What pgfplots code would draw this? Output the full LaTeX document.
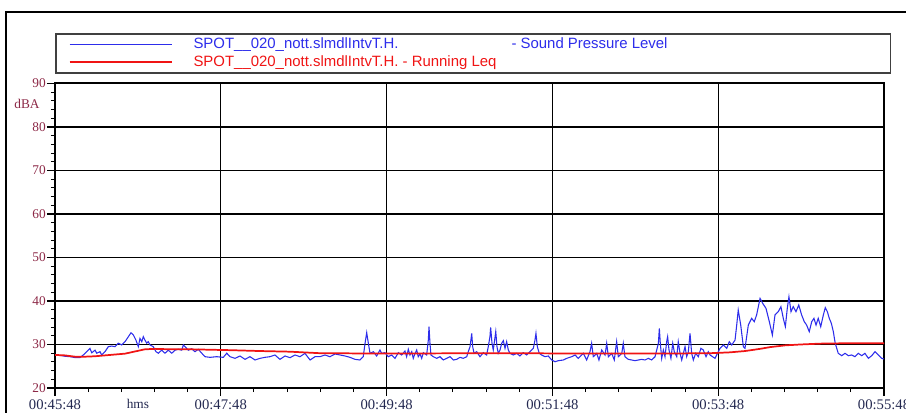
\documentclass[border=0pt]{standalone}
\usepackage{pgfplots}
\pgfplotsset{compat=1.18}
\usepackage{fontspec}
\setmainfont{Liberation Serif}
\newfontfamily\legendfont{Liberation Sans}
\definecolor{splblue}{RGB}{45,45,235}
\definecolor{leqred}{RGB}{240,20,20}
\definecolor{ylab}{RGB}{140,40,70}
\definecolor{xlab}{RGB}{35,40,80}
\begin{document}
\begin{tikzpicture}
\useasboundingbox (0pt,0pt) rectangle (679.5pt,-309pt);
\draw[line width=2pt,black] (4.5pt,-340pt) -- (4.5pt,-9pt) -- (700pt,-9pt);
\begin{axis}[
  at={(41.25pt,-291pt)}, anchor=south west,
  scale only axis, width=621.75pt, height=228.4pt,
  xmin=0, xmax=600, ymin=20, ymax=90,
  xtick={0,120,240,360,480,600},
  xticklabels={00:45:48,00:47:48,00:49:48,00:51:48,00:53:48,00:55:48},
  ytick={20,30,40,50,60,70,80,90},
  minor x tick num=4, minor y tick num=4,
  xtick pos=left, ytick pos=left,
  tick align=outside,
  major tick length=6pt, minor tick length=3pt,
  every tick/.style={black, line width=0.8pt},
  axis line style={black, line width=1.5pt},
  grid=major,
  major grid style={black, line width=0.8pt},
  /pgf/number format/assume math mode=true,
  xticklabel style={font=\fontsize{11}{12}\selectfont, text=xlab, inner sep=0pt, yshift=-2.5pt},
  yticklabel style={font=\fontsize{10}{12}\selectfont, text=ylab, inner sep=0pt, xshift=-0.75pt},
  xlabel={hms}, ylabel={dBA},
  every axis x label/.style={at={(axis description cs:0.1,0)}, anchor=base, yshift=-15.4pt, font=\fontsize{10}{12}\selectfont, text=xlab},
  every axis y label/.style={at={(axis description cs:0,0.9327)}, anchor=east, xshift=-8pt, font=\fontsize{10}{12}\selectfont, text=ylab},
  legend cell align=left,
  legend image code/.code={\draw[#1] (0pt,0pt) -- (76.5pt,0pt);},
  legend style={at={(0,1.1658)}, anchor=north west, draw=black!75, line width=1.2pt, fill=white,
    inner xsep=9.75pt, inner ysep=3pt, row sep=4pt,
    font=\legendfont\fontsize{11.2}{13}\selectfont,
    nodes={inner sep=0pt}, /tikz/column sep=15.75pt},
]
\addplot[splblue, line width=0.8pt] coordinates {
(0.0,27.6)(3.6,27.5)(7.2,27.3)(10.9,27.2)(14.5,27.0)(18.1,27.0)(20.5,27.6)(22.9,28.35)(25.3,29.1)(26.6,28.1)(29.0,28.7)(30.2,28.0)(32.6,28.35)(33.8,27.6)(36.2,28.35)(38.6,29.5)(41.0,29.65)(43.4,29.5)(45.8,30.3)(48.3,29.9)(50.7,30.65)(53.1,31.8)(55.0,32.7)(56.7,32.2)(58.6,31.0)(60.3,29.5)(61.5,31.4)(62.8,30.65)(63.9,31.8)(65.1,31.0)(66.4,30.3)(67.5,30.65)(68.8,29.9)(71.1,29.5)(73.1,28.35)(74.8,28.0)(77.2,28.7)(79.6,28.0)(82.0,28.7)(84.5,28.0)(86.9,28.7)(89.2,28.9)(91.7,28.7)(92.9,29.9)(94.1,29.5)(96.5,28.7)(98.9,29.0)(101.3,28.35)(103.7,28.9)(106.2,28.0)(108.6,27.2)(112.2,27.05)(117.0,27.2)(121.8,27.05)(124.3,28.0)(126.7,27.2)
(130.3,26.82)(133.9,27.36)(137.5,26.59)(141.1,27.20)(144.8,26.44)(148.4,26.82)(152.0,27.05)(155.6,27.20)(159.2,27.59)(162.8,26.59)(166.5,27.36)(170.1,26.97)(173.7,27.59)(177.3,27.20)(180.9,27.97)(184.6,26.44)(188.2,27.20)(191.8,27.20)(195.4,27.59)(199.0,27.20)(202.7,27.82)(206.3,27.59)(209.9,27.36)(213.5,27.05)(217.1,26.59)(220.7,26.44)(223.1,27.20)(224.4,30.27)(225.6,32.72)(226.8,30.27)(228.0,27.97)(230.4,28.35)(232.8,27.36)(235.2,28.74)(236.4,27.97)(238.8,28.12)(241.2,27.20)(243.7,27.59)(246.1,26.82)(248.5,28.12)(250.9,27.59)(253.3,28.5)
(254.5,27.20)(255.7,28.89)(256.9,27.59)(258.2,28.35)(259.3,26.82)(260.6,27.97)(261.8,28.74)(262.9,27.20)(264.2,27.82)(265.4,26.82)(266.6,28.12)(269.0,27.59)(270.2,31.03)(270.7,34.10)(271.4,30.27)(272.1,27.59)(273.8,27.20)(276.3,26.82)(278.6,27.20)(281.0,26.44)(283.5,26.82)(285.9,27.20)(288.3,26.44)(290.7,26.59)(293.1,27.05)(295.5,26.82)(298.0,27.20)(299.1,28.35)(300.4,29.50)(301.6,32.57)(302.3,29.50)(303.3,27.97)(305.2,28.35)(307.6,27.20)(310.0,28.12)(312.4,27.59)(313.6,29.50)(314.8,31.80)(315.3,33.95)(316.3,30.27)(317.2,28.74)(318.2,31.03)(319.0,32.95)(319.9,29.50)(320.8,27.97)(322.1,28.74)(323.3,30.27)(324.5,30.88)(325.7,29.12)(326.9,30.65)(328.1,28.74)(329.3,27.97)(331.7,27.59)(334.2,27.97)(336.5,27.36)(338.9,28.12)(341.4,27.59)(343.8,28.35)(346.2,29.12)(347.4,31.03)(348.1,32.57)(349.1,29.50)(350.5,27.97)(352.2,27.59)(354.6,27.20)(357.0,27.36)(359.5,26.44)(361.9,26.05)(364.3,26.28)(367.9,26.44)(370.4,26.82)(374.0,27.20)(376.4,27.59)(378.7,26.82)
(380.0,27.20)(382.4,27.97)(384.8,26.44)(387.2,28.35)(388.4,30.27)(389.6,27.20)(392.1,27.97)(393.7,26.44)(395.7,28.74)(398.1,27.59)(399.3,30.27)(400.5,27.20)(402.9,27.97)(404.8,26.44)(406.5,30.65)(407.7,27.20)(410.2,27.97)(411.3,30.27)(412.5,27.20)(414.9,26.59)(417.4,26.44)(419.8,26.28)(422.2,26.44)(424.6,26.59)(427.0,26.44)(429.4,26.82)(431.9,26.44)(434.3,27.20)(435.5,28.74)(436.7,30.27)(437.4,33.72)(438.1,30.27)(439.1,26.82)(440.3,28.74)(441.5,27.20)(442.7,30.65)(443.4,31.80)(444.4,28.74)(445.8,26.82)(447.1,30.27)(448.2,28.35)(450.0,27.20)(451.1,30.65)(452.4,27.97)(453.6,26.44)(456.0,29.50)(457.2,27.20)(458.4,28.35)(459.6,32.57)(460.8,27.97)(462.0,26.44)(463.7,27.97)(465.6,27.20)(467.5,29.12)(469.2,28.74)(471.2,27.20)(472.8,28.35)
(474.1,27.59)(477.7,26.82)(480.1,28.35)(481.3,29.12)(483.7,29.89)(486.2,29.12)(488.0,30.65)(489.8,29.89)(492.2,31.03)(493.4,34.48)(494.5,37.93)(496.3,34.48)(498.2,29.50)(499.4,29.12)(501.8,34.48)(504.2,36.02)(506.1,35.25)(507.8,36.78)(510.3,40.61)(512.2,39.46)(514.6,38.31)(517.0,35.25)(519.2,32.18)(521.1,36.78)(523.5,37.55)(525.4,38.70)(527.1,36.02)(528.6,34.10)(530.0,38.31)(531.2,40.99)(532.7,37.55)(534.3,38.70)(536.3,37.55)(538.3,39.08)(540.4,36.78)(542.3,35.25)(544.0,34.48)(545.9,32.95)(547.7,35.25)(549.3,36.02)(550.8,34.48)(552.4,36.02)(554.2,34.10)(556.1,36.78)(557.5,38.47)(559.0,37.55)(560.4,36.02)(561.9,34.86)(563.3,33.00)(564.7,30.27)(566.9,27.97)(569.4,27.43)(571.8,27.97)(574.2,27.43)(576.6,27.59)(579.0,27.20)(581.4,27.97)(583.9,27.43)(586.2,27.97)(588.7,26.82)(591.1,27.43)(593.5,28.35)(595.9,27.59)(598.4,26.82)(600.0,26.67)
};
\addlegendentry{\makebox[513pt][l]{\textcolor{splblue}{\makebox[238.5pt][l]{SPOT\_\_020\_nott.slmdlIntvT.H.}- Sound Pressure Level}}}
\addplot[leqred, line width=1.3pt] coordinates {
(0,27.6)(7.2,27.5)(14.5,27.2)(21.7,27.2)(29.0,27.3)(36.2,27.5)(43.4,27.7)(50.7,27.9)(57.9,28.4)(65.1,28.9)(72.4,29.0)(83.2,28.9)(97.7,28.9)(112.2,28.8)(126.7,28.7)(148.4,28.5)(170.1,28.35)(191.8,28.0)(220.7,27.95)(264.2,27.95)(322.1,28.0)(365.5,27.95)(408.9,27.95)(452.4,27.95)(474.1,28.0)(488.6,28.2)(499.4,28.5)(510.3,29.0)(517.5,29.4)(528.3,29.8)(539.2,30.0)(553.7,30.2)(575.4,30.3)(600,30.3)
};
\addlegendentry{\makebox[513pt][l]{\textcolor{leqred}{SPOT\_\_020\_nott.slmdlIntvT.H. - Running Leq}}}
\end{axis}
\end{tikzpicture}
\end{document}
